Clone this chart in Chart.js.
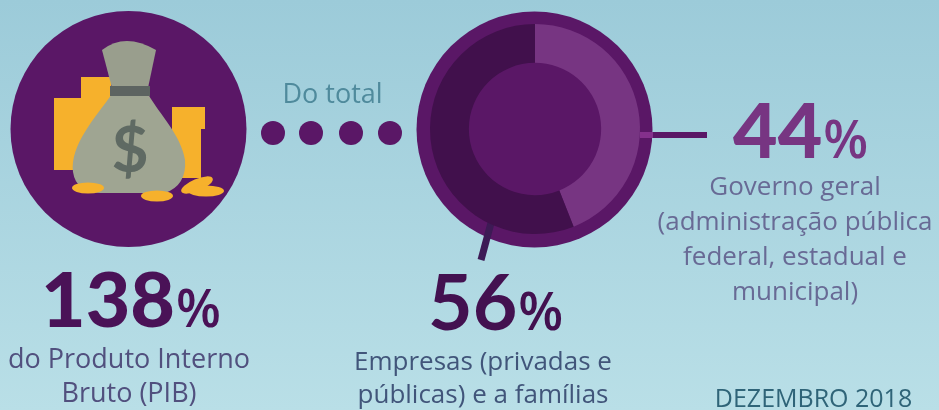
<!DOCTYPE html>
<html lang="pt">
<head>
<meta charset="utf-8">
<title>Dívida bruta</title>
<script src="https://cdn.jsdelivr.net/npm/chart.js@4"></script>
<style>
    html, body { margin: 0; padding: 0; background: #a9d3de; }
    #wrap { position: relative; width: 939px; height: 410px; overflow: hidden; }
</style>
</head>
<body>
<div id="wrap"><canvas id="debtChart" width="939" height="410"></canvas></div>
<script>
const shareLabels = ['Governo geral', 'Empresas e famílias'];
const shareValues = [44, 56];
const shareColors = ['#773582', '#41104c'];

const headlineGdp = '138';
const gdpLines = ['do Produto Interno', 'Bruto (PIB)'];
const companyLines = ['Empresas (privadas e', 'públicas) e a famílias'];
const governmentLines = ['Governo geral', '(administração pública', 'federal, estadual e', 'municipal)'];
const dotCentersX = [273, 311, 351, 390];

const PURPLE = '#5a1766';
const DARK = '#4a1257';
const TEAL = '#4f8a9c';
const NUM_FONT = 'Lato, sans-serif';
const BODY_FONT = '"Open Sans", sans-serif';

function circle(ctx, x, y, r, color) {
    ctx.fillStyle = color;
    ctx.beginPath();
    ctx.arc(x, y, r, 0, Math.PI * 2);
    ctx.fill();
}

function ellipse(ctx, x, y, rx, ry, rot, color) {
    ctx.fillStyle = color;
    ctx.beginPath();
    ctx.ellipse(x, y, rx, ry, rot, 0, Math.PI * 2);
    ctx.fill();
}

function rect(ctx, x, y, w, h, color) {
    ctx.fillStyle = color;
    ctx.fillRect(x, y, w, h);
}

function lines(ctx, rows, x, y, step, font, color) {
    ctx.font = font;
    ctx.fillStyle = color;
    ctx.textAlign = 'center';
    ctx.textBaseline = 'alphabetic';
    rows.forEach((t, i) => ctx.fillText(t, x, y + i * step));
}

// number plus a smaller % sign set right after it
function headline(ctx, num, x, y, weight, color) {
    ctx.textBaseline = 'alphabetic';
    ctx.textAlign = 'left';
    ctx.fillStyle = color;
    ctx.font = weight + ' 77px ' + NUM_FONT;
    const w1 = ctx.measureText(num).width;
    ctx.fillText(num, x, y);
    ctx.font = '600 52px ' + BODY_FONT;
    ctx.fillText('%', x + w1 + 1, y);
}

function drawBag(ctx) {
    const coin = '#f6b12c', bag = '#9fa592', neck = '#999e8d', tie = '#5d6461';

    // coin stacks behind the bag
    rect(ctx, 54, 98, 60, 72, coin);
    rect(ctx, 81, 77, 30, 24, coin);
    rect(ctx, 172, 107, 33, 22, coin);
    rect(ctx, 172, 129, 29, 49, coin);

    ctx.fillStyle = neck;
    ctx.beginPath();
    ctx.moveTo(102, 50);
    ctx.quadraticCurveTo(125, 32, 156, 50);
    ctx.lineTo(148, 88);
    ctx.lineTo(112, 88);
    ctx.closePath();
    ctx.fill();

    ctx.fillStyle = bag;
    ctx.beginPath();
    ctx.moveTo(112, 94);
    ctx.bezierCurveTo(95, 118, 70, 145, 73, 172);
    ctx.quadraticCurveTo(76, 192, 100, 193);
    ctx.lineTo(165, 193);
    ctx.quadraticCurveTo(187, 185, 185, 160);
    ctx.bezierCurveTo(181, 135, 160, 115, 148, 94);
    ctx.closePath();
    ctx.fill();

    rect(ctx, 110, 86, 40, 10, tie);

    ctx.font = '700 64px ' + NUM_FONT;
    ctx.fillStyle = '#5f6a63';
    ctx.textAlign = 'center';
    ctx.textBaseline = 'alphabetic';
    ctx.fillText('$', 130, 172);

    // loose coins on the floor
    ellipse(ctx, 88, 188, 16, 5.5, 0, coin);
    ellipse(ctx, 157, 196, 16, 5.5, 0, coin);
    ellipse(ctx, 197, 185, 17, 6, -0.4, coin);
    ellipse(ctx, 206, 191, 18, 5.5, 0, coin);
}

const backdrop = {
    id: 'backdrop',
    beforeDraw(chart) {
        const { ctx, width, height } = chart;
        const bg = ctx.createLinearGradient(0, 0, 0, height);
        bg.addColorStop(0, '#9ccbd9');
        bg.addColorStop(1, '#b9dfe7');
        ctx.fillStyle = bg;
        ctx.fillRect(0, 0, width, height);

        circle(ctx, 128.5, 129, 118, PURPLE);
        drawBag(ctx);
        dotCentersX.forEach(x => circle(ctx, x, 133, 12, PURPLE));
        lines(ctx, ['Do total'], 332.5, 103, 0, '400 27px ' + BODY_FONT, TEAL);

        rect(ctx, 650, 132, 57, 6, PURPLE);

        // rim of the ring chart
        circle(ctx, 534.5, 129.5, 118, PURPLE);

        // leader lines crossing the rim
        rect(ctx, 640, 132, 13, 6, '#84308c');
        ctx.strokeStyle = '#3d1a55';
        ctx.lineWidth = 7;
        ctx.beginPath();
        ctx.moveTo(491, 223);
        ctx.lineTo(481, 260);
        ctx.stroke();
    },
    afterDraw(chart) {
        const { ctx } = chart;
        headline(ctx, headlineGdp, 41, 327, 900, DARK);
        headline(ctx, String(shareValues[1]), 428, 330, 700, '#431150');
        headline(ctx, String(shareValues[0]), 733, 158, 900, shareColors[0]);
        lines(ctx, gdpLines, 129, 368, 34, '400 27px ' + BODY_FONT, '#51507e');
        lines(ctx, companyLines, 483, 370, 33, '400 26px ' + BODY_FONT, '#41557a');
        lines(ctx, governmentLines, 795, 195, 35, '400 26px ' + BODY_FONT, '#686a95');
        lines(ctx, ['DEZEMBRO 2018'], 813.5, 407, 0, '400 25px ' + BODY_FONT, '#2f6478');
    }
};

new Chart(document.getElementById('debtChart'), {
    type: 'doughnut',
    data: {
        labels: shareLabels,
        datasets: [{
            data: shareValues,
            backgroundColor: shareColors,
            borderWidth: 0
        }]
    },
    options: {
        responsive: false,
        animation: false,
        cutout: '63%',
        rotation: 0,
        layout: { padding: { left: 430, right: 299, top: 24, bottom: 176 } },
        plugins: { legend: { display: false }, tooltip: { enabled: false } }
    },
    plugins: [backdrop]
});
</script>
</body>
</html>
